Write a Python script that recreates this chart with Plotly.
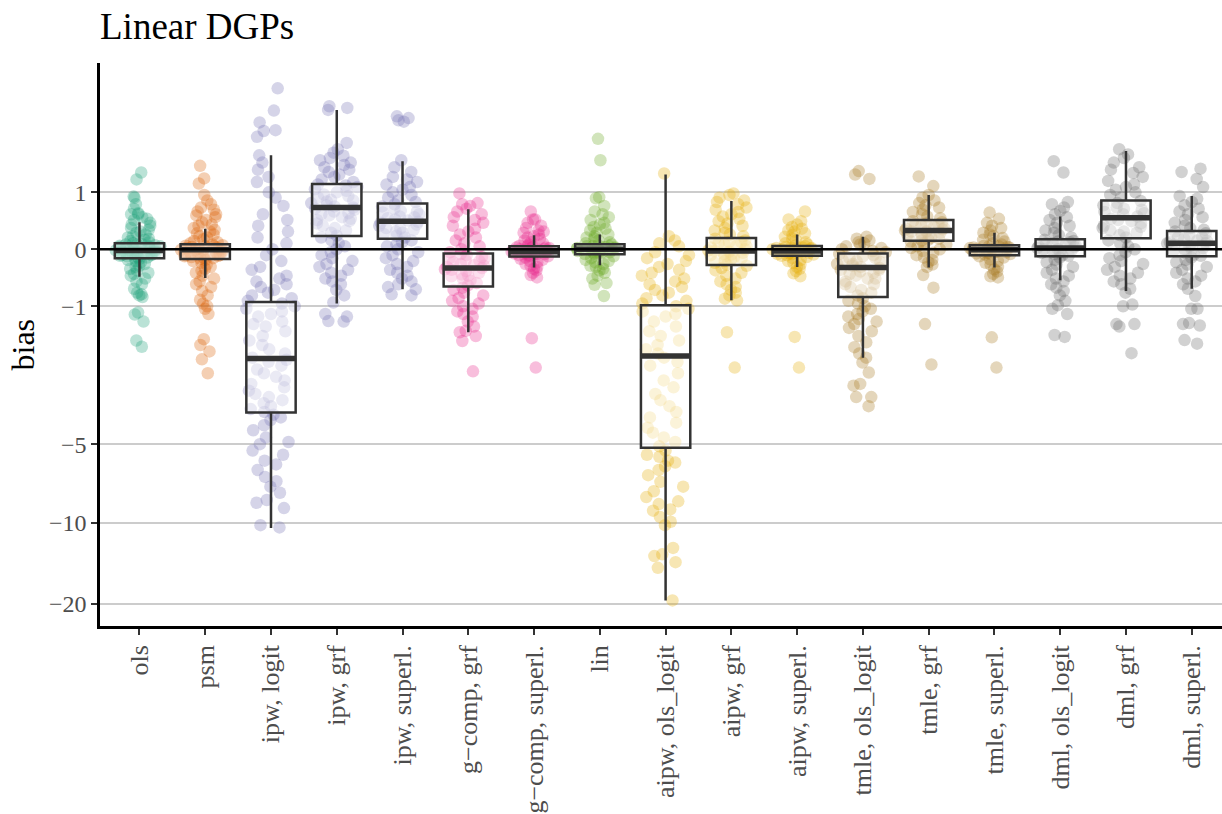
import numpy as np
import plotly.graph_objects as go

# ---------------- data (bias values) ----------------
categories = ["ols", "psm", "ipw, logit", "ipw, grf", "ipw, superl.",
              "g\u2212comp, grf", "g\u2212comp, superl.", "lin",
              "aipw, ols_logit", "aipw, grf", "aipw, superl.",
              "tmle, ols_logit", "tmle, grf", "tmle, superl.",
              "dml, ols_logit", "dml, grf", "dml, superl."]

colors = ["#1B9E77", "#D95F02", "#7570B3", "#7570B3", "#7570B3",
          "#E7298A", "#E7298A", "#66A61E",
          "#E6AB02", "#E6AB02", "#E6AB02",
          "#A6761D", "#A6761D", "#A6761D",
          "#666666", "#666666", "#666666"]

bias_ols = [0.12, 0.14, 0.16, 0.18, 0.2, 0.22, 0.25, 0.28, 0.3, 0.33, 0.36, 0.4, 0.42, 0.45, 0.5, 0.52, 0.55, 0.6, 0.6, 0.62, 0.7, 0.78, 0.9, 0.92, 1.25, 1.39,
            0.1, 0.09, 0.08, 0.08, 0.07, 0.06, 0.05, 0.05, 0.04, 0.03, 0.03, 0.02, 0.01, 0.0, 0.0, -0.01, -0.01, -0.02, -0.02, -0.03, -0.03, -0.04, -0.05, -0.05, -0.06, -0.07, -0.08, -0.08, -0.09, -0.1, -0.1, -0.11, -0.12, -0.13, -0.14, -0.15,
            -0.16, -0.18, -0.2, -0.22, -0.25, -0.28, -0.3, -0.33, -0.36, -0.4, -0.42, -0.45, -0.5, -0.55, -0.6, -0.68, -0.75, -0.78, -0.8, -0.83, -1.12, -1.16, -1.3, -1.7, -1.84]
bias_psm = [0.1, 0.12, 0.14, 0.17, 0.2, 0.22, 0.25, 0.27, 0.3, 0.33, 0.36, 0.4, 0.42, 0.46, 0.5, 0.55, 0.58, 0.6, 0.65, 0.68, 0.72, 0.78, 0.85, 0.95, 1.17, 1.27, 1.53,
            0.08, 0.07, 0.06, 0.05, 0.04, 0.03, 0.02, 0.01, 0.0, 0.0, -0.01, -0.02, -0.03, -0.04, -0.05, -0.06, -0.07, -0.08, -0.09, -0.1, -0.11, -0.12, -0.13, -0.14, -0.15, -0.16, 0.05, -0.02, -0.06, -0.1,
            -0.18, -0.2, -0.23, -0.26, -0.3, -0.33, -0.36, -0.4, -0.45, -0.5, -0.55, -0.6, -0.65, -0.72, -0.8, -0.88, -0.95, -1.0, -1.05, -1.15, -1.67, -1.8, -1.95, -2.14, -2.5]
bias_ipw_logit = [3.64, 2.92, 2.58, 2.37, 2.35, 2.2, 1.76, 1.6, 1.45, 1.3, 1.2, 1.0, 0.9, 0.75, 0.6, 0.5, 0.4, 0.3, 0.2, 0.1, 0.0, -0.1, -0.2, -0.3, -0.35, -0.45, -0.5, -0.55, -0.6, -0.65, -0.7, -0.75, -0.8, -0.85, -0.9,
                  -0.95, -1.0, -1.05, -1.1, -1.15, -1.2, -1.3, -1.35, -1.4, -1.5, -1.6, -1.7, -1.8, -1.9, -2.0, -2.1, -2.15, -2.2, -2.3, -2.4, -2.5, -2.6, -2.7, -2.8, -2.9, -3.0, -3.1, -3.2, -3.3, -3.4, -3.5, -3.6, -3.7,
                  -3.8, -3.9, -4.0, -4.2, -4.4, -4.7, -4.9, -5.0, -5.3, -5.5, -5.8, -6.0, -6.3, -6.7, -6.96, -7.3, -7.7, -8.2, -8.4, -8.8, -10.2, -10.4]
bias_ipw_grf = [1.2, 1.25, 1.3, 1.35, 1.4, 1.45, 1.5, 1.55, 1.6, 1.65, 1.7, 1.75, 1.82, 1.9, 2.05, 2.94, 3.0, 3.05,
                0.23, 0.28, 0.32, 0.36, 0.4, 0.44, 0.48, 0.52, 0.55, 0.58, 0.62, 0.65, 0.68, 0.7, 0.72, 0.74, 0.76, 0.8, 0.83, 0.86, 0.9, 0.93, 0.96, 1.0, 1.03, 1.06, 1.1, 1.13, 1.15, 0.6, 0.85, 0.5,
                0.2, 0.15, 0.1, 0.05, 0.0, -0.05, -0.1, -0.15, -0.2, -0.25, -0.3, -0.35, -0.4, -0.45, -0.5, -0.55, -0.6, -0.7, -0.8, -0.93, -1.15, -1.2, -1.29, -1.3]
bias_ipw_superl = [0.82, 0.85, 0.9, 0.95, 1.0, 1.05, 1.1, 1.15, 1.2, 1.25, 1.3, 1.4, 1.5, 1.65, 2.6, 2.64, 2.7, 2.75,
                   0.2, 0.23, 0.26, 0.3, 0.33, 0.36, 0.4, 0.42, 0.45, 0.47, 0.49, 0.51, 0.53, 0.56, 0.6, 0.63, 0.66, 0.7, 0.74, 0.78, 0.35, 0.55, 0.65, 0.28,
                   0.15, 0.12, 0.08, 0.05, 0.0, -0.05, -0.1, -0.15, -0.2, -0.25, -0.3, -0.35, -0.4, -0.45, -0.5, -0.55, -0.6, -0.65, -0.69, -0.78, -0.8]
bias_gcomp_grf = [0.98, 0.8, 0.78, 0.75, 0.7, 0.65, 0.6, 0.55, 0.5, 0.45, 0.4, 0.35, 0.3, 0.25, 0.2, 0.15, 0.1, 0.05, 0.0, -0.05,
                  -0.08, -0.1, -0.13, -0.16, -0.19, -0.22, -0.25, -0.28, -0.3, -0.32, -0.34, -0.37, -0.4, -0.43, -0.46, -0.5, -0.54, -0.58, -0.62, -0.2, -0.35, -0.45, -0.15, -0.27,
                  -0.66, -0.7, -0.75, -0.8, -0.85, -0.9, -0.95, -1.0, -1.05, -1.1, -1.15, -1.2, -1.3, -1.4, -1.49, -1.52, -1.6, -1.71, -2.45]
bias_gcomp_superl = [0.65, 0.51, 0.51, 0.45, 0.4, 0.36, 0.32, 0.3, 0.28, 0.25, 0.22, 0.2, 0.18, 0.15, 0.12, 0.1, 0.08, 0.06,
                     0.05, 0.04, 0.03, 0.02, 0.01, 0.0, -0.01, -0.02, -0.03, -0.04, -0.05, -0.06, -0.07, -0.08, -0.09, -0.1, -0.11, -0.12, 0.02, -0.04, -0.06, 0.0, -0.02, -0.08, -0.1, 0.03, -0.05, -0.07,
                     -0.14, -0.16, -0.18, -0.2, -0.22, -0.25, -0.28, -0.3, -0.33, -0.36, -0.4, -0.44, -0.48, -1.65, -2.35]
bias_lin = [2.15, 1.65, 0.91, 0.89, 0.75, 0.65, 0.6, 0.55, 0.5, 0.45, 0.42, 0.38, 0.35, 0.32, 0.28, 0.25, 0.22, 0.2, 0.18, 0.15, 0.12, 0.1,
            0.08, 0.07, 0.06, 0.05, 0.04, 0.03, 0.02, 0.01, 0.0, -0.01, -0.02, -0.03, -0.04, -0.05, -0.06, -0.07, -0.08, 0.05, 0.0, -0.03, 0.02, -0.05,
            -0.1, -0.12, -0.15, -0.18, -0.2, -0.22, -0.25, -0.28, -0.3, -0.33, -0.36, -0.4, -0.45, -0.5, -0.58, -0.61, -0.81]
bias_aipw_ols_logit = [1.37, 0.22, 0.15, 0.1, 0.05, -0.05, -0.1, -0.15, -0.2, -0.25, -0.3, -0.35, -0.4, -0.45, -0.5, -0.55, -0.6, -0.65, -0.7, -0.75, -0.8, -0.85, -0.9, -0.95,
                       -1.0, -1.05, -1.1, -1.15, -1.2, -1.3, -1.4, -1.5, -1.6, -1.7, -1.8, -1.9, -2.0, -2.1, -2.2, -2.3, -2.5, -2.7, -2.9, -3.1, -3.3, -3.5, -3.7, -3.9, -4.1, -4.3, -4.5, -4.7, -4.9, -5.1,
                       -5.3, -5.5, -5.6, -5.8, -5.9, -6.1, -6.3, -6.6, -7.0, -7.3, -7.6, -8.0, -8.3, -8.5, -8.9, -9.0, -9.5, -9.9, -10.2, -12.4, -13.1, -13.3, -14.0, -14.7, -19.4]
bias_aipw_grf = [0.98, 0.95, 0.9, 0.85, 0.82, 0.78, 0.72, 0.68, 0.64, 0.6, 0.56, 0.52, 0.48, 0.44, 0.4, 0.36, 0.32, 0.28, 0.25, 0.22,
                 0.18, 0.15, 0.12, 0.1, 0.08, 0.05, 0.03, 0.0, -0.02, -0.04, -0.06, -0.08, -0.1, -0.12, -0.15, -0.18, -0.2, -0.23, -0.26, 0.06, -0.03, -0.14, 0.12, -0.09,
                 -0.28, -0.32, -0.36, -0.4, -0.45, -0.5, -0.55, -0.6, -0.65, -0.7, -0.75, -0.8, -0.86, -0.89, -1.52, -2.35]
bias_aipw_superl = [0.65, 0.51, 0.48, 0.42, 0.38, 0.35, 0.32, 0.3, 0.27, 0.24, 0.21, 0.18, 0.15, 0.12, 0.1, 0.08, 0.06,
                    0.05, 0.04, 0.03, 0.02, 0.01, 0.0, -0.01, -0.02, -0.03, -0.04, -0.05, -0.06, -0.07, -0.08, -0.09, -0.1, -0.11, 0.02, -0.03, -0.06, 0.0, -0.05, -0.08, 0.03,
                    -0.13, -0.15, -0.18, -0.2, -0.23, -0.26, -0.3, -0.33, -0.37, -0.41, -0.46, -1.62, -2.35]
bias_tmle_ols_logit = [1.42, 1.35, 1.26, 0.21, 0.18, 0.15, 0.12, 0.1, 0.08, 0.05, 0.02, 0.0, -0.03, -0.05,
                       -0.08, -0.1, -0.12, -0.15, -0.18, -0.2, -0.22, -0.25, -0.28, -0.3, -0.32, -0.35, -0.38, -0.4, -0.45, -0.5, -0.55, -0.6, -0.65, -0.7, -0.75, -0.8, -0.15, -0.25, -0.35, -0.5, -0.6, -0.42,
                       -0.85, -0.9, -0.95, -1.0, -1.05, -1.1, -1.15, -1.2, -1.25, -1.3, -1.35, -1.43, -1.5, -1.6, -1.74, -1.85, -2.0, -2.1, -2.22, -2.48, -2.8, -2.85, -3.2, -3.2, -3.5]
bias_tmle_grf = [1.31, 1.12, 0.95, 0.9, 0.85, 0.8, 0.76, 0.72, 0.68, 0.64, 0.6, 0.56, 0.53,
                 0.48, 0.46, 0.44, 0.42, 0.4, 0.38, 0.36, 0.34, 0.32, 0.3, 0.28, 0.26, 0.24, 0.22, 0.2, 0.18, 0.16, 0.15, 0.35, 0.3, 0.25, 0.42,
                 0.13, 0.1, 0.08, 0.05, 0.02, 0.0, -0.03, -0.06, -0.1, -0.14, -0.18, -0.22, -0.26, -0.3, -0.44, -0.66, -1.35, -2.27]
bias_tmle_superl = [0.63, 0.52, 0.45, 0.4, 0.36, 0.32, 0.28, 0.25, 0.22, 0.19, 0.16, 0.13, 0.1, 0.08,
                    0.06, 0.05, 0.04, 0.03, 0.02, 0.01, 0.0, -0.01, -0.02, -0.03, -0.04, -0.05, -0.06, -0.07, -0.08, -0.09, 0.03, -0.02, 0.0, -0.05, 0.05, -0.07,
                    -0.12, -0.14, -0.17, -0.2, -0.23, -0.26, -0.3, -0.34, -0.38, -0.42, -0.46, -0.48, -1.63, -2.35]
bias_dml_ols_logit = [1.63, 1.39, 0.82, 0.78, 0.72, 0.66, 0.6, 0.55, 0.5, 0.45, 0.4, 0.36, 0.32, 0.28, 0.24, 0.2,
                      0.16, 0.14, 0.12, 0.1, 0.08, 0.06, 0.04, 0.02, 0.0, -0.02, -0.04, -0.06, -0.08, -0.1, -0.11, 0.05, 0.1, -0.05, 0.0, 0.13,
                      -0.14, -0.18, -0.22, -0.26, -0.3, -0.35, -0.4, -0.45, -0.5, -0.55, -0.6, -0.66, -0.72, -0.8, -0.9, -0.98, -1.05, -1.15, -1.58, -1.62]
bias_dml_grf = [1.9, 1.78, 1.7, 1.6, 1.5, 1.45, 1.38, 1.3, 1.22, 1.15, 1.1, 1.05, 1.0, 0.95, 0.9,
                0.84, 0.8, 0.76, 0.72, 0.68, 0.64, 0.6, 0.56, 0.52, 0.48, 0.44, 0.4, 0.36, 0.32, 0.28, 0.24, 0.2, 0.5, 0.62, 0.7, 0.38, 0.3,
                0.15, 0.1, 0.05, 0.0, -0.05, -0.1, -0.15, -0.2, -0.25, -0.3, -0.35, -0.4, -0.45, -0.5, -0.55, -0.6, -0.68, -0.75, -0.97, -1.0, -1.35, -1.35, -1.4, -1.99]
bias_dml_superl = [1.47, 1.4, 1.26, 1.1, 0.93, 0.88, 0.82, 0.76, 0.7, 0.65, 0.6, 0.55, 0.5, 0.45, 0.4, 0.36, 0.33,
                   0.3, 0.27, 0.24, 0.21, 0.18, 0.15, 0.12, 0.1, 0.08, 0.05, 0.02, 0.0, -0.03, -0.06, -0.09, -0.11, 0.2, 0.1, 0.0, 0.14,
                   -0.14, -0.18, -0.22, -0.26, -0.3, -0.35, -0.4, -0.45, -0.5, -0.55, -0.6, -0.68, -0.81, -1.05, -1.05, -1.33, -1.35, -1.38, -1.69, -1.77]

point_series = [bias_ols, bias_psm, bias_ipw_logit, bias_ipw_grf, bias_ipw_superl,
                bias_gcomp_grf, bias_gcomp_superl, bias_lin,
                bias_aipw_ols_logit, bias_aipw_grf, bias_aipw_superl,
                bias_tmle_ols_logit, bias_tmle_grf, bias_tmle_superl,
                bias_dml_ols_logit, bias_dml_grf, bias_dml_superl]

# box statistics per method (bias units)
box_q1 = [-0.15, -0.165, -3.72, 0.225, 0.18, -0.64, -0.123, -0.085, -5.17, -0.265, -0.11, -0.83, 0.146, -0.10, -0.12, 0.185, -0.12]
box_median = [-0.02, -0.01, -2.12, 0.72, 0.48, -0.317, -0.04, 0.0, -2.06, -0.03, -0.03, -0.31, 0.32, -0.01, 0.02, 0.54, 0.10]
box_q3 = [0.10, 0.085, -0.92, 1.16, 0.795, -0.072, 0.05, 0.085, -0.98, 0.19, 0.056, -0.072, 0.50, 0.07, 0.17, 0.85, 0.31]
box_lower = [-0.47, -0.49, -10.46, -0.95, -0.69, -1.52, -0.31, -0.27, -19.4, -0.89, -0.30, -2.10, -0.31, -0.31, -0.53, -0.72, -0.68]
box_upper = [0.46, 0.35, 1.76, 2.94, 1.63, 0.69, 0.236, 0.25, 1.35, 0.84, 0.25, 0.214, 0.95, 0.28, 0.56, 1.86, 0.93]

y_tick_values = [1, 0, -1, -5, -10, -20]
y_tick_labels = ["1", "0", "\u22121", "\u22125", "\u221210", "\u221220"]
y_limits = [-24.1, 4.62]


# pseudo-log scale (sigma = 1): asinh(y / 2)
def pseudo_log(v):
    return np.arcsinh(np.asarray(v, dtype=float) / 2.0)


def rgba(hex_color, a):
    h = hex_color.lstrip("#")
    r, g, b = int(h[0:2], 16), int(h[2:4], 16), int(h[4:6], 16)
    return f"rgba({r},{g},{b},{a})"


FONT = "Liberation Serif"
fig = go.Figure()

# jittered points
for cat, col, vals in zip(categories, colors, point_series):
    fig.add_trace(go.Box(
        x=[cat] * len(vals), y=pseudo_log(vals),
        boxpoints="all", jitter=1.0, pointpos=0, width=0.8,
        fillcolor="rgba(0,0,0,0)", line=dict(width=0, color="rgba(0,0,0,0)"),
        whiskerwidth=0,
        marker=dict(color=rgba(col, 0.3), size=12.5, line=dict(width=0)),
        showlegend=False, hoverinfo="skip",
    ))

# boxes
fig.add_trace(go.Box(
    x=categories, q1=pseudo_log(box_q1), median=pseudo_log(box_median), q3=pseudo_log(box_q3),
    lowerfence=pseudo_log(box_lower), upperfence=pseudo_log(box_upper),
    orientation="v", width=0.75, boxpoints=False, whiskerwidth=0,
    fillcolor="rgba(255,255,255,0.5)", line=dict(color="#333333", width=2.5),
    showlegend=False, hoverinfo="skip",
))
# thick median bars
med_t = pseudo_log(box_median)
fig.add_trace(go.Box(
    x=categories, q1=med_t, median=med_t, q3=med_t, lowerfence=med_t, upperfence=med_t,
    orientation="v", width=0.75, boxpoints=False, whiskerwidth=0,
    fillcolor="rgba(0,0,0,0)", line=dict(color="#333333", width=5.5),
    showlegend=False, hoverinfo="skip",
))

fig.add_shape(type="line", xref="paper", x0=0, x1=1, yref="y", y0=0, y1=0,
              line=dict(color="black", width=2.5), layer="above")

fig.add_annotation(text="Linear DGPs", xref="paper", yref="paper", x=0, y=1,
                   xanchor="left", yanchor="bottom", yshift=14, xshift=-2, showarrow=False,
                   font=dict(family=FONT, size=37, color="black"))
fig.add_annotation(text="bias", xref="paper", yref="paper", x=0, y=0.5,
                   xanchor="center", yanchor="middle", xshift=-78, textangle=-90,
                   showarrow=False, font=dict(family=FONT, size=32, color="black"))

fig.update_layout(
    width=1222, height=814,
    margin=dict(l=100, r=0, t=63, b=186),
    paper_bgcolor="white", plot_bgcolor="white",
    boxmode="overlay",
    font=dict(family=FONT),
    xaxis=dict(
        type="category", categoryorder="array", categoryarray=categories,
        range=[-0.6, 16.46], showgrid=False, zeroline=False,
        showline=True, linecolor="black", linewidth=2.5,
        ticks="outside", ticklen=6, tickwidth=2, tickcolor="#333333",
        tickangle=-90, tickfont=dict(family=FONT, size=26, color="#4d4d4d"),
    ),
    yaxis=dict(
        range=list(pseudo_log(y_limits)),
        tickmode="array", tickvals=list(pseudo_log(y_tick_values)), ticktext=y_tick_labels,
        showgrid=True, gridcolor="#cccccc", gridwidth=1.5, zeroline=False,
        showline=True, linecolor="black", linewidth=2.5,
        ticks="outside", ticklen=6, tickwidth=2, tickcolor="#333333",
        tickfont=dict(family=FONT, size=24, color="#4d4d4d"),
    ),
)

fig.write_html("out.html")
